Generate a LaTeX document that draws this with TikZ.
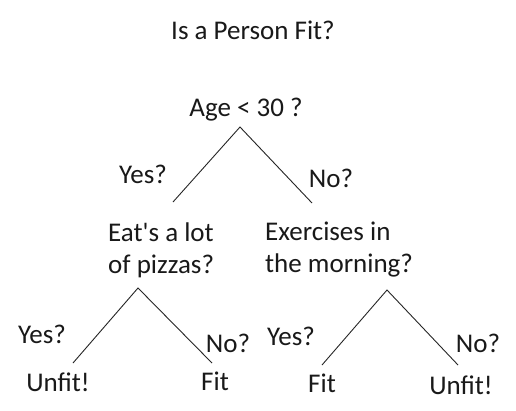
\documentclass[tikz,border=0pt]{standalone}
\usepackage{fontspec}
\setmainfont{Carlito}
\begin{document}
\begin{tikzpicture}[x=1pt,y=-1pt,
  lbl/.style={inner sep=0pt, font=\fontsize{27}{32}\selectfont, text=black!90},
  branch/.style={draw=black!85, line width=0.9pt}]
\useasboundingbox[fill=white] (0,0) rectangle (516,410);
% title and questions
\node[lbl] (title) at (253,30) {Is a Person Fit?};
\node[lbl] (age) at (246,110) {Age < 30 ?};
\node[lbl, align=left, anchor=west] (pizza) at (108,250) {Eat\textquotesingle s a lot\\of pizzas?};
\node[lbl, align=left, anchor=west] (exer) at (265,250) {Exercises in\\the morning?};
% branch labels
\node[lbl] (yes1) at (143,174) {Yes?};
\node[lbl] (no1) at (331,178) {No?};
\node[lbl] (yes2) at (42,334) {Yes?};
\node[lbl] (no2) at (228,343) {No?};
\node[lbl] (yes3) at (291,336) {Yes?};
\node[lbl] (no3) at (478,343) {No?};
% outcomes
\node[lbl] (unfit1) at (58,382) {Unfit!};
\node[lbl] (fit1) at (215,381) {Fit};
\node[lbl] (fit2) at (322,383) {Fit};
\node[lbl] (unfit2) at (461,385) {Unfit!};
% branch end points
\coordinate (r) at (240,127);
\coordinate (rl) at (173,202);
\coordinate (rr) at (312,203);
\coordinate (p) at (138,288);
\coordinate (pl) at (73,363);
\coordinate (pr) at (212,363);
\coordinate (e) at (387,290);
\coordinate (el) at (322,365);
\coordinate (er) at (458,365);
\draw[branch] (rl) -- (r) -- (rr);
\draw[branch] (pl) -- (p) -- (pr);
\draw[branch] (el) -- (e) -- (er);
\end{tikzpicture}
\end{document}
